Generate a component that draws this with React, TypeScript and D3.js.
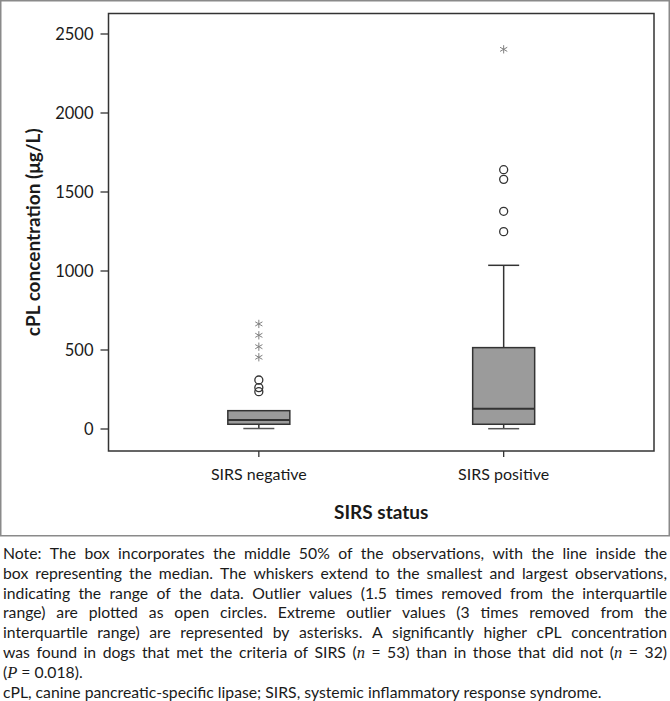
import React from "react";
import * as d3 from "d3";

const categories = ["SIRS negative", "SIRS positive"];
const whiskerLow = [3, 2];
const q1 = [30, 30];
const median = [57, 128];
const q3 = [116, 515];
const whiskerHigh = [116, 1036];
const outliers = [
  [310, 262, 236],
  [1641, 1580, 1378, 1249],
];
const extremes = [
  [665, 593, 521, 454],
  [2403],
];
const yTicks = [0, 500, 1000, 1500, 2000, 2500];

const noteLines = [
  "Note: The box incorporates the middle 50% of the observations, with the line inside the",
  "box representing the median. The whiskers extend to the smallest and largest observations,",
  "indicating the range of the data. Outlier values (1.5 times removed from the interquartile",
  "range) are plotted as open circles. Extreme outlier values (3 times removed from the",
  "interquartile range) are represented by asterisks. A significantly higher cPL concentration",
  "was found in dogs that met the criteria of SIRS (_n_ = 53) than in those that did not (_n_ = 32)",
  "(_P_ = 0.018).",
  "cPL, canine pancreatic-specific lipase; SIRS, systemic inflammatory response syndrome.",
];
const justified = [true, true, true, true, true, true, false, false];

const FONT = "Lato, 'Open Sans', sans-serif";
const SERIF = "'Liberation Serif', 'DejaVu Serif', serif";

const W = 670;
const H = 701;
const frame = { left: 108.5, right: 654, top: 13.5, bottom: 451 };

let ctx: CanvasRenderingContext2D | null = null;
function measure(text: string, font: string) {
  if (!ctx) ctx = document.createElement("canvas").getContext("2d");
  ctx!.font = font;
  return ctx!.measureText(text).width;
}

function parseWord(w: string) {
  const parts = w.split("_");
  return parts.map((t, i) => ({ text: t, italic: i % 2 === 1 })).filter((p) => p.text.length);
}

export default function App() {
  const y = d3.scaleLinear().domain([0, 2500]).range([429, 34]);
  const x = d3.scalePoint<string>().domain(categories).range([frame.left, frame.right]).padding(0.614);
  const boxW = 62;
  const capW = 31;

  // note text layout
  const baseSize = 15;
  const natural = measure(noteLines[7], `${baseSize}px ${FONT}`);
  const fs = (baseSize * 599) / natural;
  const normalFont = `${fs}px ${FONT}`;
  const italicFont = `italic ${fs * 1.05}px ${SERIF}`;
  const spaceW = measure(" ", normalFont);
  const noteLeft = 3;
  const noteRight = 667;
  const noteTop = 555;
  const lineH = 19.8;

  const noteEls: React.ReactNode[] = [];
  noteLines.forEach((line, li) => {
    const words = line.split(" ").map(parseWord);
    const widths = words.map((segs) =>
      segs.reduce((s, p) => s + measure(p.text, p.italic ? italicFont : normalFont), 0)
    );
    const total = widths.reduce((a, b) => a + b, 0);
    const gap = justified[li] && words.length > 1 ? (noteRight - noteLeft - total) / (words.length - 1) : spaceW;
    let cx = noteLeft;
    words.forEach((segs, wi) => {
      let sx = cx;
      segs.forEach((p, pi) => {
        noteEls.push(
          <text
            key={`n${li}-${wi}-${pi}`}
            x={sx}
            y={noteTop + li * lineH}
            dominantBaseline="middle"
            fontFamily={p.italic ? SERIF : FONT}
            fontStyle={p.italic ? "italic" : "normal"}
            fontSize={p.italic ? fs * 1.05 : fs}
            fill="#1a1a1a"
          >
            {p.text}
          </text>
        );
        sx += measure(p.text, p.italic ? italicFont : normalFont);
      });
      cx += widths[wi] + gap;
    });
  });

  const asterisk = d3.symbol().type(d3.symbolAsterisk).size(48)()!;

  return (
    <div style={{ position: "absolute", left: 0, top: 0 }}>
      <svg width={W} height={H} style={{ display: "block", background: "#fff" }}>
        <rect x={0.75} y={0.75} width={668.5} height={535} fill="none" stroke="#8a8a8a" strokeWidth={1.5} />
        {/* y axis ticks */}
        {yTicks.map((t) => (
          <g key={t}>
            <line x1={frame.left - 8} x2={frame.left} y1={y(t)} y2={y(t)} stroke="#333" strokeWidth={1.3} />
            <text x={frame.left - 15} y={y(t)} textAnchor="end" dominantBaseline="central" fontFamily={FONT} fontSize={16.5} fill="#1a1a1a">
              {t}
            </text>
          </g>
        ))}
        {/* x ticks */}
        {categories.map((c) => (
          <g key={c}>
            <line x1={x(c)} x2={x(c)} y1={frame.bottom} y2={frame.bottom + 6} stroke="#333" strokeWidth={1.3} />
            <text x={x(c)} y={473} textAnchor="middle" dominantBaseline="central" fontFamily={FONT} fontSize={16} fill="#1a1a1a">
              {c}
            </text>
          </g>
        ))}
        {/* boxes */}
        {categories.map((c, i) => {
          const cx = x(c)!;
          return (
            <g key={"b" + c}>
              <line x1={cx} x2={cx} y1={y(q1[i])} y2={y(whiskerLow[i])} stroke="#333" strokeWidth={1.5} />
              <line x1={cx - capW / 2} x2={cx + capW / 2} y1={y(whiskerLow[i])} y2={y(whiskerLow[i])} stroke="#555" strokeWidth={1.5} />
              {whiskerHigh[i] > q3[i] && (
                <>
                  <line x1={cx} x2={cx} y1={y(q3[i])} y2={y(whiskerHigh[i])} stroke="#333" strokeWidth={1.5} />
                  <line x1={cx - capW / 2} x2={cx + capW / 2} y1={y(whiskerHigh[i])} y2={y(whiskerHigh[i])} stroke="#333" strokeWidth={1.5} />
                </>
              )}
              <rect
                x={cx - boxW / 2}
                y={y(q3[i])}
                width={boxW}
                height={y(q1[i]) - y(q3[i])}
                fill="#9b9b9b"
                stroke="#333"
                strokeWidth={1.5}
              />
              <line x1={cx - boxW / 2} x2={cx + boxW / 2} y1={y(median[i])} y2={y(median[i])} stroke="#333" strokeWidth={2} />
              {outliers[i].map((v, k) => (
                <circle key={"o" + k} cx={cx} cy={y(v)} r={4} fill="none" stroke="#333" strokeWidth={1.3} />
              ))}
              {extremes[i].map((v, k) => (
                <path key={"e" + k} d={asterisk} transform={`translate(${cx},${y(v)})`} fill="none" stroke="#808080" strokeWidth={1} />
              ))}
            </g>
          );
        })}
        {/* frame */}
        <rect x={frame.left} y={frame.top} width={frame.right - frame.left} height={frame.bottom - frame.top} fill="none" stroke="#333" strokeWidth={1.5} />
        {/* axis titles */}
        <text x={(frame.left + frame.right) / 2} y={511} textAnchor="middle" dominantBaseline="central" fontFamily={FONT} fontWeight="bold" fontSize={19} fill="#1a1a1a">
          SIRS status
        </text>
        <text
          transform={`translate(32,${(frame.top + frame.bottom) / 2}) rotate(-90)`}
          textAnchor="middle"
          dominantBaseline="central"
          fontFamily={FONT}
          fontWeight="bold"
          fontSize={19}
          fill="#1a1a1a"
        >
          cPL concentration (μg/L)
        </text>
        {noteEls}
      </svg>
    </div>
  );
}
